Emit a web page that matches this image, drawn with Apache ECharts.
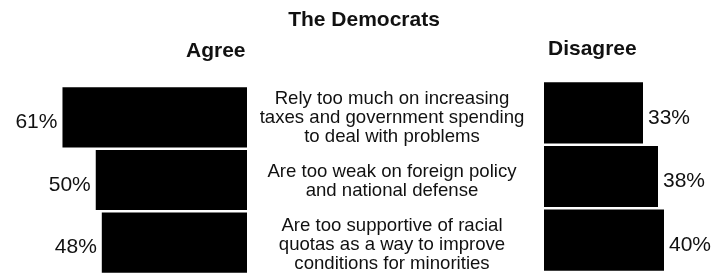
<!DOCTYPE html>
<html>
<head>
<meta charset="utf-8">
<script src="https://cdn.jsdelivr.net/npm/echarts@6/dist/echarts.min.js"></script>
<style>
  html, body { margin: 0; padding: 0; background: #fff; }
  #chart { width: 728px; height: 277px; }
</style>
</head>
<body>
<div id="chart"></div>
<script>
// data
const statements = [
  "Rely too much on increasing\ntaxes and government spending\nto deal with problems",
  "Are too weak on foreign policy\nand national defense",
  "Are too supportive of racial\nquotas as a way to improve\nconditions for minorities"
];
const agree = [61, 50, 48];
const disagree = [33, 38, 40];

const font = "'Liberation Sans', Arial, sans-serif";
const chart = echarts.init(document.getElementById("chart"));

const headStyle = { fontFamily: font, fontSize: 21, fontWeight: "bold", color: "#111" };
const pctLabel = { show: true, distance: 5, offset: [0, 5], formatter: "{c}%",
  fontFamily: font, fontSize: 21, color: "#111" };

chart.setOption({
  animation: false,
  title: [
    { text: "The Democrats", left: "center", top: 5, textStyle: headStyle },
    { text: "Agree", left: 181, top: 36, textStyle: headStyle },
    { text: "Disagree", left: 543, top: 34, textStyle: headStyle }
  ],
  grid: [
    { left: 5, width: 242, top: 86, height: 188 },
    { left: 544, width: 180, top: 81, height: 191 },
    // hidden grid carrying the statement texts
    { left: 247, width: 1, top: 86, height: 194 }
  ],
  xAxis: [
    { gridIndex: 0, type: "value", min: 0, max: 80, inverse: true, show: false },
    { gridIndex: 1, type: "value", min: 0, max: 60, show: false },
    { gridIndex: 2, type: "value", min: 0, max: 1, show: false }
  ],
  yAxis: [
    {
      gridIndex: 0, type: "category", data: statements, inverse: true, show: false
    },
    {
      gridIndex: 1, type: "category", data: statements, inverse: true, show: false
    },
    {
      gridIndex: 2, type: "category", data: statements, inverse: true, position: "right",
      axisLine: { show: false }, axisTick: { show: false },
      axisLabel: {
        margin: 144, align: "center", lineHeight: 19,
        fontFamily: font, fontSize: 18.6, color: "#111"
      }
    }
  ],
  series: [
    {
      name: "Agree", type: "bar", xAxisIndex: 0, yAxisIndex: 0, data: agree,
      barCategoryGap: "4%", itemStyle: { color: "#000" },
      label: Object.assign({ position: "left" }, pctLabel)
    },
    {
      name: "Disagree", type: "bar", xAxisIndex: 1, yAxisIndex: 1, data: disagree,
      barCategoryGap: "4%", itemStyle: { color: "#000" },
      label: Object.assign({ position: "right" }, pctLabel)
    }
  ]
});
</script>
</body>
</html>
